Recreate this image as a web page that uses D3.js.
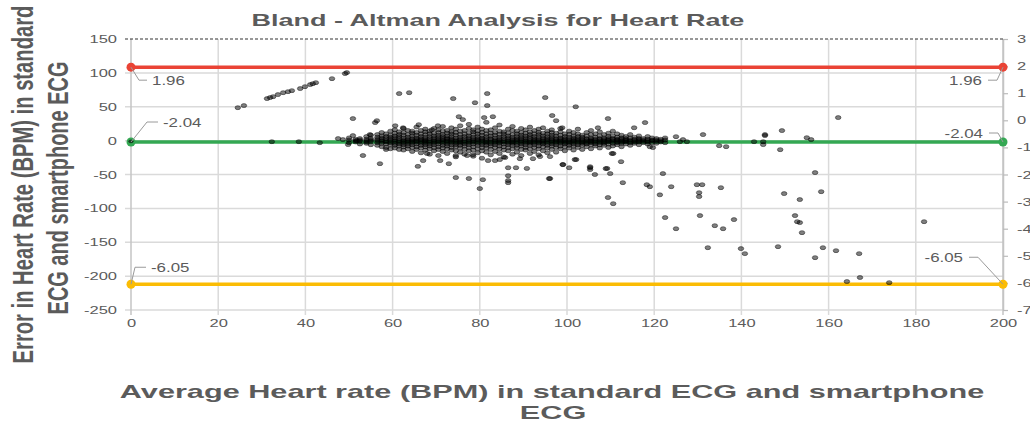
<!DOCTYPE html>
<html lang="en">
<head>
<meta charset="UTF-8">
<title>Bland - Altman Analysis for Heart Rate</title>
<script src="https://d3js.org/d3.v7.min.js"></script>
<style>
  body { margin: 0; background: #fff; overflow: hidden; font-family: "Liberation Sans", Arial, sans-serif; }
  svg text { fill: #5b5b5b; }
</style>
</head>
<body>
<svg id="chart" width="1030" height="421"></svg>
<script>
// ---- data ----
const xTicks = [0, 20, 40, 60, 80, 100, 120, 140, 160, 180, 200];
const yLeftTicks = [-250, -200, -150, -100, -50, 0, 50, 100, 150];
const yRightTicks = [-7, -6, -5, -4, -3, -2, -1, 0, 1, 2, 3];

// limit lines: upper / mean / lower (as plotted in the original)
const limitNames = ["upper", "mean", "lower"];
const limitValues = [1.96, -2.04, -6.05];
const limitAxis = ["right", "left", "right"];

// straight run of points at low heart rates
const diagonalPoints = [
  [24.5, 48.7], [25.9, 51.7], [31.2, 62.0], [31.9, 63.5], [32.6, 64.9], [33.7, 67.9],
  [34.9, 70.8], [36.0, 72.3], [36.9, 73.8], [38.8, 76.8], [39.9, 79.7], [41.1, 82.7],
  [41.7, 84.1], [42.4, 85.6], [46.1, 91.5], [49.1, 98.9], [49.5, 100.4]
];

// dense band: average HR and the errors found at that average
const coreAvg = [50, 51.5, 52.5, 54, 55, 56.5, 57.5, 58.5, 59.5, 60.5, 61.5, 62.5, 63.5, 64.5, 65.5,
  66.5, 67.5, 68.5, 69.5, 70.5, 71.5, 72.5, 73.5, 74.5, 75.5, 76.5, 77.5, 78.5, 79.5, 80.5, 81.5,
  82.5, 83.5, 84.5, 85.5, 86.5, 87.5, 88.5, 89.5, 90.5, 91.5, 92.5, 93.5, 94.5, 95.5, 96.5, 97.5,
  98.5, 99.5, 100.5, 101.5, 102.5, 103.5, 104.5, 105.5, 106.5, 107.5, 108.5, 109.5, 110.5, 111.5,
  112.5, 113.5, 114.5, 115.5, 116.5, 117.5, 118.5, 119.5, 120.5, 121.5, 122.5];
const coreErr = [
  [-3, 1, 4], [-2, 2, 0], [-5, 1, 3, -1], [-4, 0, 2, 6, -2], [-6, -1, 3, 1, 8],
  [-7, -3, 0, 2, 5, 9], [-9, -4, -1, 1, 4, 7, 12], [-10, -5, -2, 0, 3, 6, 10, -13],
  [-12, -6, -3, 0, 2, 5, 8, 14], [-11, -7, -4, -1, 1, 4, 7, 11, 16],
  [-13, -8, -5, -2, 0, 3, 6, 9, 13], [-14, -9, -6, -3, -1, 1, 4, 8, 12, 18],
  [-12, -8, -5, -2, 0, 2, 5, 9, 15], [-16, -10, -6, -3, -1, 1, 3, 7, 11, 14],
  [-13, -9, -5, -2, 0, 2, 4, 8, 12, 20], [-18, -11, -7, -4, -1, 1, 3, 6, 10, 15],
  [-14, -9, -6, -3, -1, 0, 2, 5, 9, 13, 17], [-20, -12, -8, -5, -2, 0, 3, 6, 10, 14],
  [-15, -10, -6, -3, -1, 1, 4, 7, 11, 18], [-22, -13, -9, -5, -2, 0, 2, 5, 8, 12, 16],
  [-16, -11, -7, -4, -1, 1, 3, 6, 9, 14, 21], [-19, -12, -8, -5, -2, 0, 2, 4, 7, 11, 15],
  [-14, -10, -6, -3, -1, 1, 3, 6, 10, 13, 19], [-24, -15, -9, -6, -3, -1, 1, 4, 8, 12, 17],
  [-17, -11, -7, -4, -2, 0, 2, 5, 9, 14, 22], [-20, -13, -8, -5, -2, 0, 3, 6, 10, 15],
  [-15, -10, -6, -3, -1, 1, 4, 7, 11, 18, 24], [-23, -14, -9, -5, -2, 0, 2, 5, 9, 13, 16],
  [-18, -12, -7, -4, -1, 1, 3, 6, 10, 14, 20], [-26, -15, -10, -6, -3, 0, 2, 4, 8, 12, 17],
  [-17, -11, -7, -4, -2, 0, 3, 6, 10, 15, 27], [-21, -13, -8, -5, -2, 1, 3, 7, 11, 16],
  [-16, -10, -6, -3, -1, 1, 4, 8, 12, 19], [-19, -12, -8, -4, -2, 0, 2, 5, 9, 14, 23],
  [-24, -14, -9, -5, -2, 0, 3, 6, 10, 13], [-15, -10, -6, -3, -1, 1, 4, 7, 11, 17],
  [-20, -12, -7, -4, -2, 0, 2, 5, 9, 15, 21], [-17, -11, -7, -4, -1, 1, 3, 6, 10, 14],
  [-22, -13, -8, -5, -2, 0, 2, 5, 8, 12, 18], [-14, -10, -6, -3, -1, 1, 4, 7, 11, 16],
  [-19, -12, -7, -4, -2, 0, 3, 6, 9, 13, 20], [-16, -10, -6, -3, -1, 1, 3, 6, 10, 15],
  [-21, -12, -8, -4, -2, 0, 2, 5, 9, 12, 17], [-15, -9, -5, -3, -1, 1, 4, 7, 11, 19],
  [-18, -11, -7, -4, -1, 1, 3, 6, 10, 14], [-13, -8, -5, -2, 0, 2, 5, 8, 12, 16],
  [-17, -10, -6, -3, -1, 1, 3, 7, 11], [-12, -8, -4, -2, 0, 2, 4, 8, 13, 18],
  [-15, -9, -5, -3, -1, 1, 3, 6, 10], [-11, -7, -4, -2, 0, 2, 5, 9, 14],
  [-14, -8, -5, -2, 0, 1, 4, 7, 12], [-10, -6, -3, -1, 1, 3, 6, 10, 17],
  [-13, -7, -4, -2, 0, 2, 5, 8], [-9, -5, -3, -1, 1, 3, 7, 12],
  [-12, -6, -3, -1, 0, 2, 4, 9, 15], [-8, -5, -2, 0, 2, 5, 10],
  [-11, -6, -3, -1, 1, 3, 7, 13], [-7, -4, -2, 0, 2, 4, 9],
  [-10, -5, -2, 0, 1, 3, 6, 11], [-8, -4, -1, 1, 3, 7, 14],
  [-6, -3, -1, 1, 2, 5, 10], [-9, -4, -2, 0, 2, 4, 8],
  [-5, -2, 0, 1, 3, 6], [-7, -3, -1, 1, 4, 9], [-4, -2, 0, 2, 5],
  [-6, -2, 0, 1, 3, 7], [-3, -1, 1, 3], [-5, -2, 0, 2, 6], [-3, 0, 1, 4],
  [-4, -1, 1, 3], [-2, 0, 2], [-3, 1, 4]
];

// scattered points away from the band
const outlierPoints = [
  [32.3, -1.5], [38.5, -1.5], [43.3, -3], [47.5, 3], [48.6, 1.5], [49.8, -5.9],
  [50.9, 32.5], [50.9, 7.4], [51.8, 0], [53.2, -22], [56, 26.6], [56.4, 29.5], [57.1, -34], [54.8, 8.9],
  [61.5, 69.4], [63.8, 70.8], [60.6, 22], [62.4, 19], [66, 23.6], [65.8, -38], [67, -29.5], [67.9, -19],
  [69, 16], [70.4, 22], [70.9, -29.5], [72.9, -34], [73.9, 62], [74.5, -54.6], [75.2, 35.4], [76.1, 31],
  [77.5, -56], [78.9, 56], [80.7, -57.6], [80, -70.8], [81.7, 69.4], [81.7, 51.7], [81, 34], [74.5, -22],
  [77.1, -22], [78.4, -20.7], [83, 35.4], [95, 63.5], [102, 50], [96.6, 37], [97.5, 29.5], [98.9, 19],
  [109.4, 32.5], [115.4, 19], [117.9, 26.6], [107.1, 19], [81.9, -29.5], [86.5, -40], [86.5, -51.7],
  [86.5, -59], [86.5, -62], [88.3, -40], [90.8, -41], [95.9, -56], [99.1, -35.4], [100.5, -40],
  [105.3, -40], [106.4, -50], [109.2, -41], [109.9, -48.7], [112.8, -62], [118.3, -65], [110.6, -19],
  [112.4, -31], [102.1, -28], [93.8, -23.6], [92.2, -26.6], [89.2, -26.6], [84.6, -28], [85.8, -25],
  [83.5, -29.5], [119, -9], [119.7, -10.3], [119, -68], [121.3, -80], [122, -48.7], [123.9, -68],
  [125, 5.9], [125.9, -1.5], [126.6, 1.5], [127.5, -1.5], [131.2, 8.9], [129.8, -65], [131, -65],
  [130.3, -76.8], [130.3, -82.6], [134.9, -7.4], [136.5, -8.9], [135.3, -69.4], [142.9, -1.5],
  [145, -1.5], [145.4, 8.9], [145.4, 7.4], [145, -5.9], [148.9, -13.3], [149.3, 14.8], [155, 4.4],
  [156, 1.5], [156.9, -47.2], [149.8, -78.2], [153.4, -87], [158.3, -75.3], [96.1, -23.6], [99, -35.4],
  [101.8, -28], [96.1, -56], [105.3, -38.4], [105.3, -42.8], [108.9, -41.3], [110.3, -19], [109.4, -84],
  [110.6, -93], [122.5, -113.6], [125, -130], [130.5, -110.7], [133.9, -125.5], [135.8, -130],
  [138.3, -116.6], [132.3, -158], [139.9, -159.4], [140.8, -166.8], [148.4, -156.5], [152.3, -110.7],
  [152.8, -119.6], [153.4, -121], [153.9, -135.8], [156.9, -172.7], [158.7, -158], [161.7, -162.4],
  [167, -166.8], [164.2, -208], [167.2, -202], [173.9, -209.6], [181.9, -119.6], [162.2, 34]
];
// single point at the origin, drawn over the mean marker
const originPoint = [0, -1];

// ---- styling ----
const limitColors = { upper: "#ea4335", mean: "#34a853", lower: "#fbbc04" };
// label offsets [textDx, textDy, elbowDx, elbowDy] relative to the end dots
const labelOffsetsLeft = { upper: [21, 14, 8, 13], mean: [32, -20, 16, -20], lower: [20, -17, 4, -17] };
const labelOffsetsRight = { upper: [-21, 13, -6, 13], mean: [-20, -9, -5, -9], lower: [-40, -27, -25, -27] };
const tickStretch = 1.5;
const labelStretch = 1.3;
const plain = d => String(d);   // hyphen-minus, as in the original

const svg = d3.select("#chart");

const x = d3.scaleLinear().domain([0, 200]).range([131, 1003]);
const yL = d3.scaleLinear().domain([-250, 150]).range([310, 39]);
const yR = d3.scaleLinear().domain([-7, 3]).range([310, 39]);

// gridlines
const grid = svg.append("g");
grid.selectAll("line.h")
  .data(yLeftTicks.filter(d => d < 150))
  .join("line")
  .attr("x1", 125).attr("x2", x(200))
  .attr("y1", d => yL(d)).attr("y2", d => yL(d))
  .attr("stroke", "#dadada").attr("stroke-width", 1.5);
grid.selectAll("line.v")
  .data(xTicks)
  .join("line")
  .attr("x1", d => x(d)).attr("x2", d => x(d))
  .attr("y1", yL(150)).attr("y2", 315)
  .attr("stroke", d => d === 200 || d === 0 ? "#c4c4c4" : "#dadada")
  .attr("stroke-width", 1.5);

// dashed top line
svg.append("line")
  .attr("x1", 125).attr("x2", x(200))
  .attr("y1", yL(150)).attr("y2", yL(150))
  .attr("stroke", "#333").attr("stroke-width", 1.2).attr("stroke-dasharray", "3,2");

// axes
const leftAxis = svg.append("g")
  .attr("transform", `translate(${x(0)},0)`)
  .call(d3.axisLeft(yL).tickValues(yLeftTicks).tickFormat(plain).tickSize(0).tickPadding(0));
leftAxis.select(".domain").remove();
leftAxis.selectAll("text")
  .attr("x", -14 / tickStretch)
  .attr("transform", `scale(${tickStretch},1)`);

const bottomAxis = svg.append("g")
  .attr("transform", `translate(0,${yL(-250)})`)
  .call(d3.axisBottom(x).tickValues(xTicks).tickFormat(plain).tickSize(0).tickPadding(9));
bottomAxis.select(".domain").remove();
bottomAxis.selectAll("text").attr("transform", `scale(${tickStretch},1)`);

const rightAxis = svg.append("g")
  .attr("transform", `translate(${x(200)},0)`)
  .call(d3.axisRight(yR).tickValues(yRightTicks).tickFormat(plain).tickSize(5).tickSizeOuter(0).tickPadding(9));
rightAxis.select(".domain").attr("stroke", "#c4c4c4").attr("stroke-width", 1.5);
rightAxis.selectAll(".tick line").attr("stroke", "#bbb").attr("stroke-width", 1.2);
rightAxis.selectAll("text")
  .attr("x", 14 / tickStretch)
  .attr("transform", `scale(${tickStretch},1)`);

svg.selectAll(".tick text")
  .attr("font-family", "'Liberation Sans', Arial, sans-serif")
  .attr("font-size", 11)
  .attr("fill", "#666");

// limit lines
const yFor = (i) => (limitAxis[i] === "left" ? yL : yR)(limitValues[i]);
const limits = limitNames.map((n, i) => ({ name: n, value: limitValues[i], y: yFor(i) }));

svg.append("g").selectAll("line")
  .data(limits)
  .join("line")
  .attr("x1", x(0)).attr("x2", x(200))
  .attr("y1", d => d.y).attr("y2", d => d.y)
  .attr("stroke", d => limitColors[d.name])
  .attr("stroke-width", 3.5);

// scatter
const scatter = diagonalPoints
  .concat(coreAvg.flatMap((a, i) => coreErr[i].map(e => [a, e])))
  .concat(outlierPoints);

svg.append("g").selectAll("ellipse")
  .data(scatter)
  .join("ellipse")
  .attr("cx", d => x(d[0]))
  .attr("cy", d => yL(d[1]))
  .attr("rx", 2.8).attr("ry", 2.0)
  .attr("fill", "#000").attr("fill-opacity", 0.5)
  .attr("stroke", "#000").attr("stroke-opacity", 0.6).attr("stroke-width", 0.7);

// end dots
limits.forEach(d => {
  [0, 200].forEach(v => {
    svg.append("circle")
      .attr("cx", x(v)).attr("cy", d.y).attr("r", 4.5)
      .attr("fill", limitColors[d.name]);
  });
});
svg.append("ellipse")
  .attr("cx", x(originPoint[0])).attr("cy", yL(originPoint[1])).attr("rx", 2.6).attr("ry", 1.9)
  .attr("fill", "#000").attr("fill-opacity", 0.6);

// data labels with leader lines
const labels = svg.append("g");
limits.forEach(d => {
  [[0, labelOffsetsLeft[d.name], "start"], [200, labelOffsetsRight[d.name], "end"]].forEach(([v, off, anchor]) => {
    const px = x(v), py = d.y;
    const ex = px + off[2], ey = py + off[3];
    const hx = anchor === "start" ? px + off[0] - 5 : px + off[0] + 6;
    labels.append("path")
      .attr("d", `M${px},${py}L${ex},${ey}L${hx},${ey}`)
      .attr("fill", "none").attr("stroke", "#9a9a9a").attr("stroke-width", 1);
    labels.append("text")
      .attr("transform", `translate(${px + off[0]},${ey + 4.5}) scale(${labelStretch},1)`)
      .attr("text-anchor", anchor)
      .attr("font-size", 13)
      .text(d.value.toFixed(2));
  });
});

// text fitted to a given width by horizontal stretch
function fitText(sel, cx, by, width) {
  const w = sel.node().getComputedTextLength();
  const s = width / w;
  sel.attr("transform", `translate(${cx},${by}) scale(${s},1)`);
  return s;
}

const title = svg.append("text")
  .attr("text-anchor", "middle")
  .attr("font-size", 17).attr("font-weight", "bold").attr("fill", "#595959")
  .text("Bland - Altman Analysis for Heart Rate");
fitText(title, 498, 26, 493);

const xTitle = svg.append("text")
  .attr("text-anchor", "middle")
  .attr("font-size", 19).attr("font-weight", "bold").attr("fill", "#595959")
  .text("Average Heart rate (BPM) in standard ECG and smartphone");
const xs = fitText(xTitle, 552, 398, 865);
svg.append("text")
  .attr("text-anchor", "middle")
  .attr("font-size", 19).attr("font-weight", "bold").attr("fill", "#595959")
  .attr("transform", `translate(553,419) scale(${xs},1)`)
  .text("ECG");

// vertical title: font size set so each line keeps its length in the original
function fitVertical(text, cx, cy, length) {
  const t = svg.append("text")
    .attr("text-anchor", "middle")
    .attr("font-size", 20).attr("font-weight", "bold").attr("fill", "#595959")
    .text(text);
  const w = t.node().getComputedTextLength();
  t.attr("font-size", 20 * length / w)
    .attr("transform", `translate(${cx},${cy}) scale(1.45,1) rotate(-90)`);
}
fitVertical("Error in Heart Rate (BPM) in standard", 33, 184.5, 358);
fitVertical("ECG and smartphone ECG", 68, 188, 253);
</script>
</body>
</html>
